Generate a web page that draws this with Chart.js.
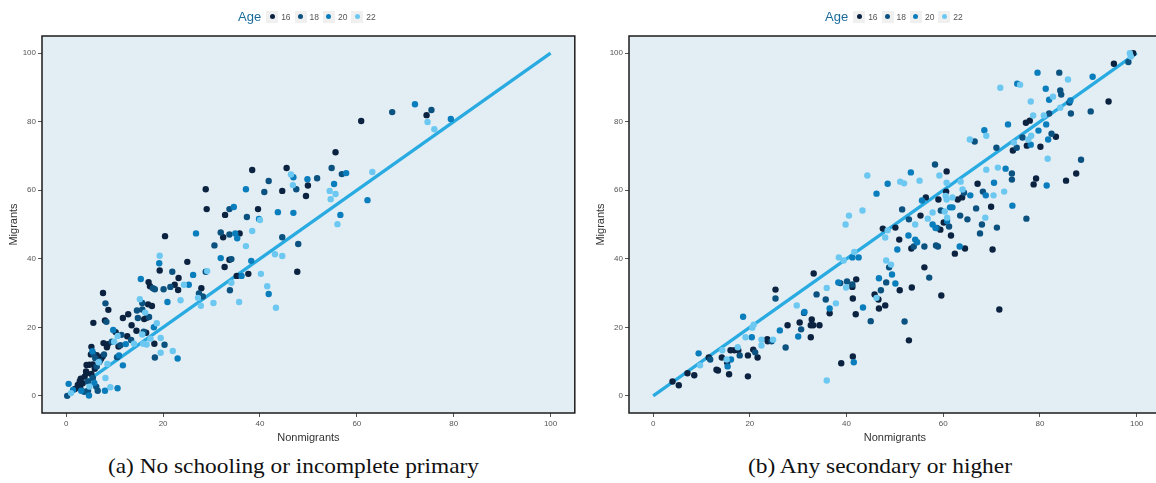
<!DOCTYPE html>
<html>
<head>
<meta charset="utf-8">
<script src="https://cdn.jsdelivr.net/npm/chart.js@4.4.1/dist/chart.umd.min.js"></script>
<style>
html,body{margin:0;padding:0;background:#fff;overflow:hidden;width:1156px;height:483px;}
canvas{position:absolute;top:0;}
.legend{position:absolute;top:8px;height:17px;display:flex;align-items:center;font-family:'Liberation Sans',Arial,sans-serif;}
.legend .ttl{font-size:13px;color:#1b6b9c;margin-right:5px;}
.legend .key{width:12px;height:12px;background:#f0f0f0;display:inline-flex;align-items:center;justify-content:center;margin-right:3px;}
.legend .dot{width:5px;height:5px;border-radius:50%;}
.legend .lab{font-size:8.5px;color:#555;margin-right:4.4px;width:9px;}
.cap{position:absolute;top:453px;font-family:'Liberation Serif','Times New Roman',serif;font-size:21px;line-height:26px;color:#111;white-space:nowrap;transform-origin:0 0;}
</style>
</head>
<body>
<canvas id="ca" width="578" height="450" style="left:0px;width:578px;height:450px"></canvas>
<canvas id="cb" width="586" height="450" style="left:578px;width:586px;height:450px"></canvas>
<div class="legend" id="lega" style="left:238px"></div>
<div class="legend" id="legb" style="left:825px"></div>
<div class="cap" id="capa" style="left:108px">(a) No schooling or incomplete primary</div>
<div class="cap" id="capb" style="left:748px">(b) Any secondary or higher</div>
<script>
// ---------- DATA ----------
const ages = [16, 18, 20, 22];
const xTicks = [0, 20, 40, 60, 80, 100];
const yTicks = [0, 20, 40, 60, 80, 100];
const fitX = [0, 100];
const fitY = [0, 100];

// Panel (a): No schooling or incomplete primary  [Nonmigrants, Migrants]
const a16 = [[28.8,60.3],[38.4,65.9],[45.5,66.5],[44.6,59.8],[49.9,61.4],[49.5,58.3],[29.0,54.5],[32.8,52.8],[39.6,54.5],
[60.9,80.2],[74.4,81.9],[55.6,71.1],
[47.7,36.2],[20.4,46.6],[32.4,46.3],[35.8,47.4],[37.6,35.6],[35.2,35.0],[32.7,37.6],[33.7,39.7],[25.0,39.1],[23.2,34.4],[22.4,32.4],[23.1,30.9],[19.3,36.6],[27.9,31.4],[17.0,33.2],[17.3,32.0],[16.9,26.7],[17.7,26.2],[12.8,23.8],[11.7,22.7],[16.1,22.4],[16.6,22.8],[13.5,20.6],[14.5,19.0],[16.5,18.4],[18.2,15.2],
[7.6,30.0],[8.7,25.1],[5.6,21.3],[8.0,22.0],[10.2,18.6],[12.6,17.4],[7.7,15.4],[8.4,14.2],[8.6,15.1],[10.8,14.4],[5.2,14.3],[6.3,11.9],[7.5,11.5],[2.9,2.3],[1.8,2.0],[3.4,3.7],[3.8,5.6],[4.2,6.6],[4.8,9.1],[5.5,9.2],[5.9,7.9],[5.1,12.1],[4.1,7.1],[5.2,6.4],[2.4,3.2],[7.2,10.8],[3.0,5.0],[4.2,9.0],[2.8,4.3]];
const a18 = [[41.8,62.7],[40.9,59.5],[47.5,60.3],[33.7,54.5],[37.3,52.2],
[67.3,82.8],[75.4,83.4],[54.8,66.5],[56.9,64.7],[51.8,63.5],
[47.9,44.3],[31.9,47.7],[33.7,47.1],[30.6,43.9],[44.6,46.3],[33.8,30.8],[34.1,39.9],[28.8,36.2],[21.9,36.2],[21.5,31.8],[20.1,31.1],[27.4,29.9],[28.2,29.0],[17.9,31.4],[18.3,31.1],[15.7,27.1],[15.7,25.2],[14.6,24.9],[14.8,22.7],[17.1,23.0],[16.0,18.7],[20.3,14.9],[18.3,11.2],
[8.1,27.0],[8.3,21.6],[11.4,17.8],[13.4,16.3],[9.4,15.8],[11.2,14.8],[6.9,10.1],[6.0,11.0],[5.6,12.3],[10.5,11.3],[6.5,1.5],[4.5,1.5],[3.7,1.2],[0.2,0.0],[6.3,8.6],[5.5,5.2],[4.5,4.2],[6.2,2.7],[6.8,9.9],[7.8,12.1]];
const a20 = [[37.1,60.3],[46.9,63.8],[49.8,63.2],[34.6,55.1],[39.8,51.6],[43.7,53.6],[46.9,53.4],
[72.0,85.1],[79.4,80.8],[57.8,65.0],[55.3,61.8],[62.2,57.1],[56.6,52.8],
[26.8,47.4],[34.9,47.4],[35.3,46.0],[38.2,39.4],[36.2,35.0],[41.8,29.7],[31.9,40.2],[26.2,35.3],[19.2,38.7],[25.3,32.4],[20.9,27.4],[15.4,34.1],[18.1,20.0],[23.0,10.9],
[9.7,19.2],[12.3,15.1],[5.4,13.0],[10.9,11.8],[11.7,8.9],[10.6,2.2],[8.0,1.5],[4.7,0.1],[0.5,3.5],[1.4,1.7],[3.1,1.5],[5.8,3.8]];
const a22 = [[46.4,64.6],[46.8,61.5],[40.0,51.3],
[74.6,79.9],[76.0,77.8],[54.4,59.8],[55.6,58.9],[54.6,57.4],[63.2,65.3],[56.0,50.1],
[38.4,48.1],[37.1,43.7],[43.1,41.3],[44.6,40.8],[40.2,35.6],[34.1,33.0],[41.5,32.0],[43.3,25.7],[35.7,27.4],[29.1,36.4],[19.3,40.9],[24.3,32.4],[23.6,27.9],[27.2,28.6],[27.8,26.3],[30.4,27.1],[15.2,28.2],[16.3,24.3],[18.7,21.2],[15.7,17.9],[17.4,16.7],[19.5,16.9],[15.9,15.2],[16.6,15.0],[19.5,12.6],[22.0,13.1],
[10.6,17.5],[14.0,15.2],[9.9,15.8],[8.5,9.3],[8.1,5.2],[9.1,2.5],[1.0,0.8],[6.7,9.8],[4.8,2.7]];

// Panel (b): Any secondary or higher  [Nonmigrants, Migrants]
const b16 = [[99.3,100.0],[95.3,96.9],[94.2,85.9],[77.1,79.7],[77.9,80.3],[83.3,75.6],[77.3,73.0],[80.1,72.7],[74.4,71.6],[87.5,64.9],[85.4,62.8],[79.2,63.4],[78.7,61.7],[67.1,61.9],[69.9,55.2],[60.7,65.5],[60.6,59.6],[63.9,57.9],[63.0,57.3],[59.0,57.3],[56.4,57.9],[55.3,52.6],[60.1,50.6],[59.4,48.5],[47.5,48.8],[50.1,49.1],
[33.2,35.7],[36.5,24.1],[41.2,31.8],[42.0,34.0],[41.3,28.4],[41.9,23.8],[45.8,29.6],[46.7,25.5],[38.9,9.5],[41.3,11.5],[25.3,31.0],[27.8,20.6],[30.3,21.4],[32.8,22.3],[32.6,20.6],[33.1,20.6],[34.4,20.6],[32.6,17.1],[23.6,16.5],[23.7,15.9],[20.7,13.5],[21.6,11.2],[19.6,11.8],[19.6,5.7],[17.6,13.3],[16.8,13.3],[16.0,13.3],[15.3,9.7],[15.7,6.3],[14.2,11.2],[13.1,7.6],[13.4,7.4],[11.5,11.2],[8.5,6.0],[7.1,6.6],[5.3,3.1],[4.0,4.2],
[50.9,45.6],[53.4,43.0],[61.6,46.8],[62.4,41.5],[64.5,43.0],[70.2,42.7],[51.0,30.8],[46.6,28.1],[48.0,26.4],[53.5,31.6],[56.1,37.5],[59.6,29.3],[71.6,25.2],[52.9,16.2]];
const b18 = [[98.3,97.4],[84.0,94.3],[84.2,89.1],[84.4,87.9],[86.1,85.6],[90.5,83.0],[86.4,82.4],[81.9,82.4],[66.5,74.2],[82.4,76.5],[76.4,75.4],[75.2,72.4],[71.0,72.4],[88.5,68.9],[74.2,64.9],[74.2,63.1],[68.2,59.6],[66.8,54.7],[68.0,50.0],[71.1,49.1],[77.2,51.7],[58.3,67.5],[64.3,59.3],[51.5,54.4],[59.5,54.1],[63.5,52.6],[65.0,51.5],[52.9,51.5],[61.2,49.4],[58.7,49.0],
[33.8,29.6],[35.7,28.1],[38.7,32.9],[40.1,33.4],[41.2,32.5],[45.0,21.8],[25.3,28.4],[31.2,24.2],[30.6,19.4],[27.4,14.1],[24.5,15.9],[21.1,12.7],[17.9,11.8],[11.8,10.6],
[53.9,43.6],[56.1,43.6],[58.5,43.9],[58.9,43.6],[67.6,47.4],[48.8,37.5],[48.2,33.1],[47.1,30.8],[57.1,34.5],[52.0,21.7]];
const b20 = [[46.2,59.0],[90.9,93.1],[79.5,94.3],[75.3,91.1],[81.2,89.6],[81.9,86.4],[86.3,86.2],[81.3,79.2],[73.4,79.2],[68.5,77.5],[79.7,77.4],[81.7,74.8],[78.1,73.3],[81.4,61.4],[72.9,66.3],[70.5,62.2],[68.8,58.5],[74.3,55.5],[53.3,65.2],[48.5,61.9],[65.6,58.5],[55.6,57.0],[61.4,55.0],[61.9,55.0],[57.8,50.0],
[41.2,40.4],[42.5,40.4],[36.5,25.5],[38.3,33.1],[43.4,25.8],[46.7,34.3],[41.5,9.8],[31.3,24.5],[26.2,19.1],[30.0,17.3],[18.6,23.1],[20.4,17.1],[16.1,10.6],[15.4,8.6],[9.4,12.4],
[50.5,42.7],[52.8,46.8],[54.2,45.6],[54.6,44.8],[58.4,49.0],[60.8,51.0],[63.4,43.6],[49.4,35.4],[50.1,32.8]];
const b22 = [[44.3,64.3],[43.3,54.1],[40.5,52.6],[39.8,50.0],[98.6,100.0],[98.8,99.0],[85.8,92.3],[75.9,90.8],[71.8,89.9],[82.7,87.3],[78.1,85.9],[84.2,84.1],[80.8,81.8],[78.6,81.8],[68.9,75.9],[65.5,74.8],[78.2,75.9],[77.6,74.8],[74.6,73.9],[81.6,69.2],[71.3,66.6],[68.9,66.0],[72.6,59.6],[70.4,58.5],[68.7,52.0],[59.2,64.3],[51.1,62.5],[51.9,62.0],[55.1,62.8],[60.7,62.2],[63.6,62.5],[64.0,60.2],[61.9,57.9],[60.5,58.3],[60.7,57.3],[57.8,53.5],[60.3,53.8],[60.8,52.0],[56.8,51.7],[54.2,50.0],
[38.4,40.4],[39.4,39.5],[41.6,42.0],[35.9,31.5],[37.8,27.0],[39.9,31.6],[46.2,28.6],[35.9,4.5],[29.7,26.4],[22.4,16.4],[24.8,16.4],[22.4,14.7],[19.1,17.1],[20.8,20.8],[20.5,19.9],[17.5,14.2],[15.2,10.6],[14.3,13.3],[9.7,8.9],
[48.0,46.2],[48.5,48.3],[48.2,39.5],[49.2,38.3]];

// ---------- STYLE ----------
const ageColors = ['#0b2341', '#0b5280', '#0a7dbc', '#6cc8f0'];
const lineColor = '#29abe2';
const plotBg = '#e3eef4';
const FONT = "'Liberation Sans', Arial, sans-serif";

const framePlugin = {
  id: 'frame',
  beforeDraw(chart) {
    const {ctx, chartArea: a} = chart;
    ctx.save();
    ctx.fillStyle = plotBg;
    ctx.fillRect(a.left, a.top, a.right - a.left, a.bottom - a.top);
    ctx.restore();
  },
  afterDatasetsDraw(chart) {
    const {ctx, chartArea: a} = chart;
    ctx.save();
    ctx.strokeStyle = '#1c1c1c';
    ctx.lineWidth = 1.5;
    ctx.strokeRect(a.left, a.top, a.right - a.left, a.bottom - a.top);
    ctx.restore();
  }
};

function makeChart(id, sets, yAxisWidth, yTitlePad, rightPad) {
  const toPts = arr => arr.map(p => ({x: p[0], y: p[1]}));
  const datasets = sets.map((s, i) => ({
    label: String(ages[i]),
    data: toPts(s),
    backgroundColor: ageColors[i],
    borderWidth: 0,
    pointRadius: 3.2,
    pointHoverRadius: 3.2,
    order: 4 - i
  }));
  datasets.push({
    type: 'line',
    label: 'fit',
    data: fitX.map((x, i) => ({x: x, y: fitY[i]})),
    borderColor: lineColor,
    borderWidth: 3.2,
    pointRadius: 0,
    showLine: true,
    fill: false,
    order: 10
  });
  const tickCfg = {font: {size: 8, family: FONT}, color: '#555', padding: 2, maxRotation: 0, autoSkip: false};
  const gridCfg = {drawOnChartArea: false, drawTicks: true, tickLength: 4, color: '#555', lineWidth: 1};
  return new Chart(document.getElementById(id), {
    type: 'scatter',
    data: {datasets},
    options: {
      animation: false,
      responsive: false,
      devicePixelRatio: 1,
      layout: {padding: {top: 36, right: rightPad, left: 0, bottom: 0}},
      plugins: {legend: {display: false}, tooltip: {enabled: false}},
      scales: {
        x: {
          type: 'linear', min: -5, max: 105,
          afterBuildTicks: s => { s.ticks = xTicks.map(v => ({value: v})); },
          afterFit: s => { s.height = 37; },
          grid: gridCfg, border: {display: false}, ticks: tickCfg,
          title: {display: true, text: 'Nonmigrants', color: '#333', font: {size: 11, family: FONT}, padding: {top: 0, bottom: 5.4}}
        },
        y: {
          type: 'linear', min: -5, max: 105,
          afterBuildTicks: s => { s.ticks = yTicks.map(v => ({value: v})); },
          afterFit: s => { s.width = yAxisWidth; },
          grid: gridCfg, border: {display: false}, ticks: tickCfg,
          title: {display: true, text: 'Migrants', color: '#333', font: {size: 11, family: FONT}, padding: {top: yTitlePad, bottom: 0}}
        }
      }
    },
    plugins: [framePlugin]
  });
}

makeChart('ca', [a16, a18, a20, a22], 42, 7.4, 3);
makeChart('cb', [b16, b18, b20, b22], 51, 16.4, 3);

function buildLegend(id) {
  const el = document.getElementById(id);
  const t = document.createElement('span');
  t.className = 'ttl'; t.textContent = 'Age';
  el.appendChild(t);
  ages.forEach((a, i) => {
    const k = document.createElement('span'); k.className = 'key';
    const d = document.createElement('span'); d.className = 'dot'; d.style.background = ageColors[i];
    k.appendChild(d); el.appendChild(k);
    const l = document.createElement('span'); l.className = 'lab'; l.textContent = String(a);
    el.appendChild(l);
  });
}
buildLegend('lega');
buildLegend('legb');

function fitCaption(id, target) {
  const el = document.getElementById(id);
  const w = el.getBoundingClientRect().width;
  el.style.transform = 'scaleX(' + (target / w) + ')';
}
fitCaption('capa', 371);
fitCaption('capb', 264);
</script>
</body>
</html>
